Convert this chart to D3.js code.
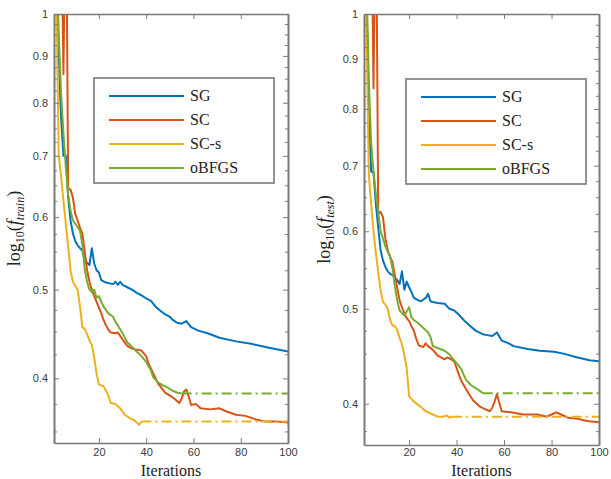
<!DOCTYPE html>
<html>
<head>
<meta charset="utf-8">
<script src="https://cdn.jsdelivr.net/npm/d3@7"></script>
<style>
body { margin: 0; background: #fff; }
</style>
</head>
<body>
<svg id="chart" width="611" height="479"></svg>
<script>
// series: [iteration, f value]
const sgTrain = [[1,1.4],[2,1.1],[3,0.9],[4,0.77],[5,0.70],[6,0.70],[7,0.63],[8,0.595],[9,0.576],[10,0.565],[11,0.559],[12,0.555],[13,0.552],[14,0.538],[15,0.535],[16,0.532],[17,0.555],[18,0.534],[19,0.525],[20,0.522],[21,0.512],[23,0.509],[26,0.507],[27,0.51],[28,0.506],[29,0.51],[30,0.506],[32,0.503],[34,0.50],[36,0.496],[38,0.493],[40,0.489],[42,0.486],[44,0.479],[46,0.474],[48,0.470],[50,0.467],[51,0.464],[53,0.46],[55,0.459],[57,0.462],[59,0.455],[62,0.451],[66,0.448],[71,0.443],[78,0.439],[85,0.436],[92,0.432],[100,0.428]];
const scTrain = [[1,1.6],[2,1.8],[3,1.5],[4,1.3],[5,0.86],[6,1.5],[7,0.645],[8,0.643],[9,0.63],[10,0.605],[11,0.595],[12,0.584],[13,0.576],[14,0.55],[15,0.525],[16,0.51],[17,0.5],[18,0.492],[19,0.485],[20,0.478],[21,0.471],[22,0.463],[23,0.457],[24,0.452],[25,0.449],[27,0.448],[28,0.449],[30,0.441],[32,0.434],[34,0.431],[36,0.43],[38,0.429],[40,0.423],[41,0.415],[43,0.405],[45,0.395],[48,0.386],[50,0.383],[52,0.38],[54,0.376],[55,0.38],[56,0.387],[57,0.389],[58,0.382],[59,0.374],[61,0.375],[63,0.371],[67,0.37],[71,0.371],[74,0.368],[78,0.365],[82,0.364],[86,0.361],[90,0.359],[95,0.359],[100,0.358]];
const scsTrain = [[1,1.3],[2,1.05],[3,0.70],[4,0.665],[5,0.625],[6,0.59],[7,0.557],[8,0.525],[9,0.51],[10,0.505],[11,0.5],[12,0.479],[13,0.455],[14,0.453],[15,0.447],[16,0.44],[17,0.435],[18,0.422],[19,0.405],[20,0.394],[22,0.392],[24,0.383],[25,0.376],[27,0.375],[29,0.371],[31,0.365],[33,0.362],[35,0.36],[37,0.356],[38,0.359]];
const scsTrainTail = [[38,0.359],[100,0.359]];
const bfgsTrain = [[1,1.4],[2,1.2],[3,0.95],[4,0.82],[5,0.74],[6,0.68],[7,0.635],[8,0.61],[9,0.595],[10,0.59],[11,0.585],[12,0.58],[13,0.56],[14,0.526],[15,0.51],[16,0.5],[17,0.497],[18,0.5],[19,0.49],[20,0.492],[21,0.485],[22,0.479],[24,0.471],[26,0.467],[27,0.461],[28,0.457],[30,0.448],[32,0.438],[34,0.433],[36,0.428],[38,0.423],[40,0.417],[42,0.408],[43,0.401],[45,0.396],[47,0.393],[49,0.391],[51,0.388],[53,0.386],[55,0.385]];
const bfgsTrainTail = [[55,0.385],[100,0.385]];

const sgTest = [[1,1.4],[2,1.05],[3,0.82],[4,0.69],[5,0.69],[6,0.64],[7,0.605],[8,0.574],[9,0.56],[10,0.552],[11,0.546],[12,0.543],[13,0.541],[14,0.538],[15,0.535],[16,0.53],[17,0.546],[18,0.523],[19,0.533],[20,0.526],[21,0.52],[22,0.513],[24,0.51],[25,0.509],[27,0.513],[28,0.518],[29,0.509],[30,0.508],[32,0.507],[35,0.506],[37,0.50],[39,0.498],[41,0.493],[43,0.487],[45,0.482],[48,0.475],[51,0.471],[53,0.47],[55,0.469],[57,0.473],[59,0.464],[62,0.461],[64,0.458],[70,0.455],[75,0.453],[81,0.452],[85,0.45],[91,0.446],[96,0.443],[100,0.442]];
const scTest = [[1,1.5],[2,1.6],[3,1.3],[4,1.4],[5,0.84],[6,1.4],[7,0.625],[8,0.628],[9,0.62],[10,0.59],[11,0.574],[12,0.565],[13,0.558],[14,0.541],[15,0.525],[16,0.51],[17,0.502],[18,0.495],[19,0.489],[20,0.486],[21,0.48],[22,0.475],[23,0.466],[24,0.459],[26,0.457],[27,0.461],[28,0.458],[30,0.454],[32,0.448],[35,0.444],[36,0.446],[37,0.445],[39,0.442],[40,0.435],[41,0.428],[42,0.422],[43,0.418],[45,0.41],[47,0.403],[50,0.397],[52,0.395],[54,0.393],[55,0.396],[56,0.402],[57,0.409],[58,0.401],[59,0.393],[63,0.392],[68,0.39],[74,0.39],[78,0.388],[80,0.39],[82,0.392],[84,0.39],[87,0.387],[91,0.386],[95,0.384],[100,0.383]];
const scsTest = [[1,1.3],[2,1.0],[3,0.688],[4,0.64],[5,0.6],[6,0.57],[7,0.545],[8,0.522],[9,0.508],[10,0.505],[11,0.5],[12,0.487],[13,0.481],[14,0.48],[15,0.476],[16,0.467],[17,0.46],[18,0.448],[19,0.435],[20,0.407],[22,0.402],[25,0.397],[27,0.393],[30,0.39],[32,0.388],[34,0.388],[36,0.389],[37,0.387],[38,0.388]];
const scsTestTail = [[38,0.388],[100,0.388]];
const bfgsTest = [[1,1.4],[2,1.1],[3,0.86],[4,0.74],[5,0.69],[6,0.655],[7,0.626],[8,0.6],[9,0.59],[10,0.579],[11,0.572],[12,0.565],[13,0.55],[14,0.527],[15,0.51],[16,0.498],[17,0.495],[18,0.492],[19,0.497],[20,0.502],[21,0.49],[22,0.487],[24,0.483],[26,0.478],[28,0.473],[29,0.468],[30,0.458],[32,0.456],[35,0.453],[37,0.449],[39,0.443],[40,0.44],[42,0.434],[43,0.428],[44,0.423],[46,0.418],[48,0.415],[50,0.412],[51,0.41]];
const bfgsTestTail = [[51,0.41],[100,0.41]];

const legendNames = ["SG", "SC", "SC-s", "oBFGS"];
const colors = ["#0072BD", "#D95319", "#EDB120", "#77AC30"];
const iterTicks = [20, 40, 60, 80, 100];
const yTicks = [0.4, 0.5, 0.6, 0.7, 0.8, 0.9, 1];

const svg = d3.select("#chart");
const axisColor = "#7a7a7a";
const labelColor = "#3a3a3a";

function drawPanel(cfg) {
    const x = d3.scaleLinear().domain([1, 100]).range([cfg.left, cfg.right]);
    const y = d3.scaleLog().domain([cfg.yMin, 1]).range([cfg.bottom, cfg.top]);

    // minor ticks every 0.025
    const yMinor = d3.range(14, 40).map(k => k * 0.025)
        .filter(v => v >= cfg.yMin && Math.abs(v * 10 - Math.round(v * 10)) > 1e-6);

    svg.append("clipPath").attr("id", cfg.id + "-clip")
        .append("rect")
        .attr("x", cfg.left).attr("y", cfg.top)
        .attr("width", cfg.right - cfg.left).attr("height", cfg.bottom - cfg.top);

    const g = svg.append("g");
    const plot = g.append("g").attr("clip-path", `url(#${cfg.id}-clip)`);

    const line = d3.line().x(d => x(d[0])).y(d => y(d[1]));

    cfg.series.forEach((s, i) => {
        plot.append("path")
            .datum(s)
            .attr("d", line)
            .attr("fill", "none")
            .attr("stroke", colors[i])
            .attr("stroke-width", 2)
            .attr("stroke-linejoin", "round");
    });
    cfg.tails.forEach(t => {
        plot.append("path")
            .datum(t.data)
            .attr("d", line)
            .attr("fill", "none")
            .attr("stroke", colors[t.color])
            .attr("stroke-width", 2)
            .attr("stroke-dasharray", "10,4,2,4");
    });

    // axes (box with inward ticks)
    g.append("g").attr("transform", `translate(0,${cfg.bottom})`)
        .call(d3.axisBottom(x).tickValues(iterTicks).tickSizeInner(-5).tickSizeOuter(0).tickPadding(cfg.xPad));
    g.append("g").attr("transform", `translate(0,${cfg.top})`)
        .call(d3.axisTop(x).tickValues(iterTicks).tickSizeInner(-5).tickSizeOuter(0).tickFormat(""));
    g.append("g").attr("transform", `translate(${cfg.left},0)`)
        .call(d3.axisLeft(y).tickValues(yTicks).tickSizeInner(-5).tickSizeOuter(0).tickPadding(6)
            .tickFormat(d => d === 1 ? "1" : d.toFixed(1)));
    g.append("g").attr("transform", `translate(${cfg.left},0)`)
        .call(d3.axisLeft(y).tickValues(yMinor).tickSizeInner(-3).tickSizeOuter(0).tickFormat(""));
    g.append("g").attr("transform", `translate(${cfg.right},0)`)
        .call(d3.axisRight(y).tickValues(yTicks).tickSizeInner(-5).tickSizeOuter(0).tickFormat(""));
    g.append("g").attr("transform", `translate(${cfg.right},0)`)
        .call(d3.axisRight(y).tickValues(yMinor).tickSizeInner(-3).tickSizeOuter(0).tickFormat(""));

    g.selectAll(".domain").attr("stroke", axisColor).attr("stroke-width", 1.6);
    g.selectAll(".tick line").attr("stroke", axisColor).attr("stroke-width", 1);
    g.selectAll(".tick text")
        .attr("fill", labelColor)
        .attr("font-family", "'Liberation Sans', Arial, sans-serif")
        .attr("font-size", 11);

    // x label
    g.append("text")
        .attr("x", (cfg.left + cfg.right) / 2)
        .attr("y", 476)
        .attr("text-anchor", "middle")
        .attr("font-family", "'Liberation Serif', 'Times New Roman', serif")
        .attr("font-size", 16)
        .attr("fill", "#222")
        .text("Iterations");

    // y label: log10(f_sub)
    const yl = g.append("text")
        .attr("transform", `translate(${cfg.ylabX},${(cfg.top + cfg.bottom) / 2}) rotate(-90)`)
        .attr("text-anchor", "middle")
        .attr("font-family", "'Liberation Serif', 'Times New Roman', serif")
        .attr("font-size", 18)
        .attr("fill", "#222");
    yl.append("tspan").text("log");
    yl.append("tspan").attr("font-size", 12).attr("dy", 4).text("10");
    yl.append("tspan").attr("dy", -4).text("(");
    yl.append("tspan").attr("font-style", "italic").text("f");
    yl.append("tspan").attr("font-style", "italic").attr("font-size", 12).attr("dy", 4).text(cfg.sub);
    yl.append("tspan").attr("dy", -4).text(")");

    // legend
    const lg = g.append("g").attr("transform", `translate(${cfg.legX},${cfg.legY})`);
    lg.append("rect")
        .attr("width", 180).attr("height", 105)
        .attr("fill", "#fff")
        .attr("stroke", axisColor)
        .attr("stroke-width", 1.6);
    legendNames.forEach((name, i) => {
        const yy = 18 + i * 24;
        lg.append("line")
            .attr("x1", 15).attr("x2", 90)
            .attr("y1", yy).attr("y2", yy)
            .attr("stroke", colors[i])
            .attr("stroke-width", 2);
        lg.append("text")
            .attr("x", 96).attr("y", yy + 5)
            .attr("font-family", "'Liberation Serif', 'Times New Roman', serif")
            .attr("font-size", 16)
            .attr("fill", "#222")
            .text(name);
    });
}

drawPanel({
    id: "train", left: 54, right: 288, top: 14, bottom: 443, yMin: 0.34, xPad: 5,
    series: [sgTrain, scTrain, scsTrain, bfgsTrain],
    tails: [{data: scsTrainTail, color: 2}, {data: bfgsTrainTail, color: 3}],
    sub: "train", ylabX: 20, legX: 94, legY: 78
});

drawPanel({
    id: "test", left: 364, right: 599, top: 14, bottom: 445, yMin: 0.363, xPad: 3,
    series: [sgTest, scTest, scsTest, bfgsTest],
    tails: [{data: scsTestTail, color: 2}, {data: bfgsTestTail, color: 3}],
    sub: "test", ylabX: 330, legX: 406, legY: 79
});
</script>
</body>
</html>
